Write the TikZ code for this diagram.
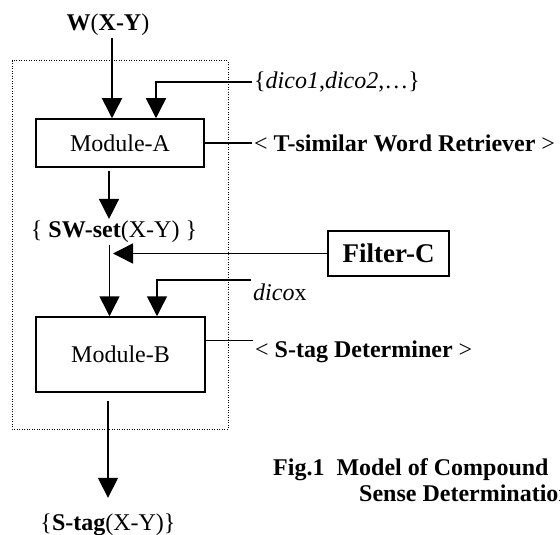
\documentclass[tikz,border=0pt]{standalone}
\usepackage{fontspec}
\setmainfont{Liberation Serif}
\usetikzlibrary{arrows.meta}

\begin{document}
\begin{tikzpicture}[x=1pt,y=-1pt,
    font=\fontsize{24}{28}\selectfont,
    box/.style={draw,line width=1.5pt,inner sep=0pt},
    lbl/.style={inner sep=2pt},
    wire/.style={line width=1.5pt},
    arr/.style={line width=1.5pt,-{Triangle[length=20pt,width=20pt]}},
    frame/.style={line width=1pt,dash pattern=on 1pt off 1.5pt}]
  \useasboundingbox (0,0) rectangle (560,535);
  % the two modules and the filter
  \draw[frame] (12,61) rectangle (228,429);
  \node[box,minimum width=168pt,minimum height=48pt] (modA) at (120,143) {Module-A};
  \node[box,minimum width=169pt,minimum height=75pt] (modB) at (120.5,354.5) {Module-B};
  \node[box,minimum width=121pt,minimum height=45pt,
        font=\fontsize{27}{30}\selectfont\bfseries] (filt) at (388.5,253.5) {Filter-C};
  % inputs, outputs and side labels
  \node[lbl] (w) at (108,25) {\textbf{W}(\textbf{X-Y})};
  \node[lbl] (swset) at (114,232) {\{ \textbf{SW-set}(X-Y) \}};
  \node[lbl] (stag) at (108,525) {\{\textbf{S-tag}(X-Y)\}};
  \node[lbl,anchor=west] (dicos) at (252,82) {\{\textit{dico1},\textit{dico2},…\}};
  \node[lbl,anchor=west] (tsim) at (252,143) {< \textbf{T-similar Word Retriever} >};
  \node[lbl,anchor=west] (dicox) at (251,292) {\textit{dico}x};
  \node[lbl,anchor=west] (sdet) at (253,352) {< \textbf{S-tag Determiner} >};
  \node[lbl,anchor=west,font=\fontsize{24}{28}\selectfont\bfseries] (cap1) at (271,470) {Fig.1\ \ Model of Compound};
  \node[lbl,anchor=west,font=\fontsize{24}{28}\selectfont\bfseries] (cap2) at (357,493) {Sense Determination};
  % flow through module A
  \draw[arr] ([xshift=4pt]w.south) -- ([xshift=-8pt]modA.north);
  \draw[arr] (dicos.west) -| ([xshift=36pt]modA.north);
  \draw[wire] (modA.east) -- (tsim.west);
  \draw[arr,shorten <=3pt] ([xshift=-11pt]modA.south) -- ([xshift=-11pt]modA.south |- swset.north);
  % filter and module B
  \draw[arr] (filt.west) -- ([xshift=-1pt]swset.south |- filt.west);
  \draw[arr] ([xshift=-11pt]modB.north |- swset.south) -- ([xshift=-11pt]modB.north);
  \draw[arr] ([yshift=12pt]dicox.west) -| ([xshift=36.5pt]modB.north);
  \draw[wire] ([yshift=14pt]modB.east) -- ([yshift=14pt]modB.east -| sdet.west);
  \draw[arr,shorten <=8pt,shorten >=14pt] ([xshift=-12.5pt]modB.south) -- ([xshift=-12.5pt]modB.south |- stag.north);
\end{tikzpicture}
\end{document}
